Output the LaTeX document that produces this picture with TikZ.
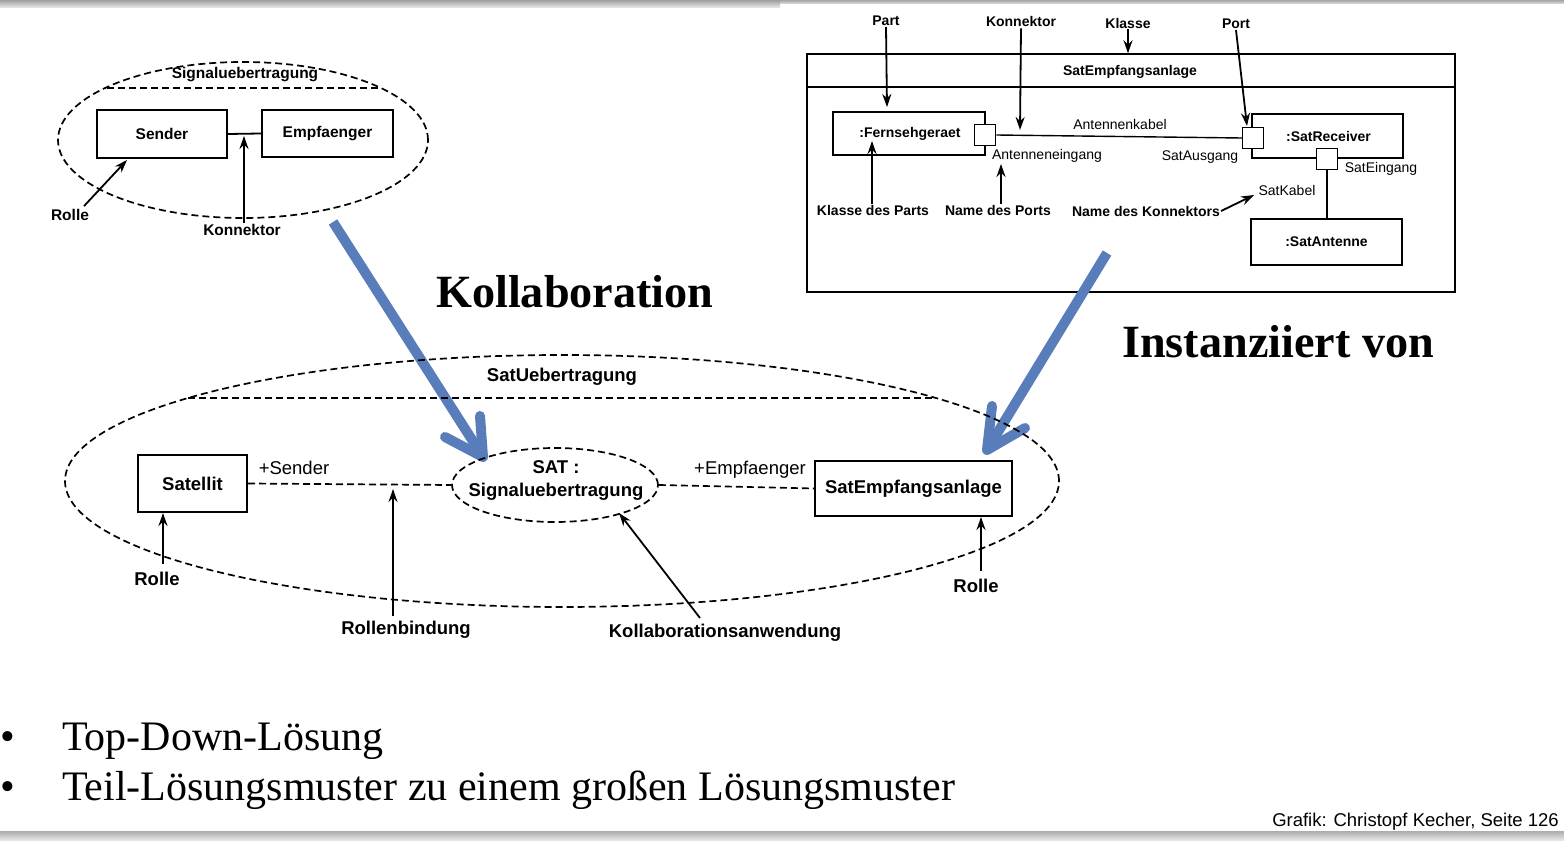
\documentclass[tikz,border=0pt]{standalone}
\usepackage{fontspec}
\setmainfont{Liberation Serif}
\newfontfamily\dsans{Liberation Sans}
\usetikzlibrary{shapes.geometric,arrows.meta,calc}
\definecolor{arrblue}{RGB}{88,125,186}
\newcommand\fTL{\dsans\bfseries\fontsize{15.5}{18}\selectfont}
\newcommand\fTR{\dsans\bfseries\fontsize{14}{16}\selectfont}
\newcommand\fTRn{\dsans\fontsize{14}{16}\selectfont}
\newcommand\fB{\dsans\bfseries\fontsize{18.5}{23}\selectfont}
\newcommand\fBn{\dsans\fontsize{18.5}{22}\selectfont}
\newcommand\fBig{\bfseries\fontsize{46.2}{50}\selectfont}
\newcommand\fBul{\fontsize{42}{46}\selectfont}
\newcommand\fFoot{\dsans\fontsize{18.5}{22}\selectfont}
\begin{document}
\begin{tikzpicture}[x=1pt,y=-1pt,
  tbox/.style={draw, line width=2pt, inner sep=0pt},
  rbox/.style={draw, line width=1.5pt, inner sep=0pt, font=\fTR},
  pbox/.style={draw, line width=1.5pt, inner sep=0pt, minimum size=21pt, fill=white},
  dsh/.style={dash pattern=on 7pt off 4pt, line width=1.7pt},
  arr/.style={-{Stealth[length=13pt,width=9pt]}, line width=1.8pt},
  blu/.style={line width=10pt, arrblue},
  lbl/.style={inner sep=1pt}]
\useasboundingbox (0,0) rectangle (1564,842);
% grey bars
\shade[top color=gray!75, bottom color=gray!15] (0,0) rectangle (780,8);
\shade[top color=gray!70, bottom color=gray!25] (780,0) rectangle (1564,4);
\shade[top color=gray!65, bottom color=gray!20] (0,831) rectangle (1564,840);

% ---------- top-left collaboration ----------
\node[ellipse, draw, dsh, minimum width=370pt, minimum height=156pt, inner sep=0pt] (sig) at (243,140) {};
\coordinate (sigc1) at (107,88);
\coordinate (sigc2) at (379,88);
\draw[dsh] (sigc1) -- (sigc2);
\node[lbl, font=\fTL] (sigt) at (245,75) {Signaluebertragung};
\node[tbox, minimum width=130pt, minimum height=48pt, font=\fTL] (sender) at (162,134) {Sender};
\node[tbox, minimum width=131pt, minimum height=47pt, font=\fTL] (empf) at (327.5,133.5) {Empfaenger};
\draw[line width=1.8pt] (sender.east) -- (empf.west);
\node[lbl, font=\fTL] (kon1) at (242,230) {Konnektor};
\coordinate (kon1tip) at (244,136);
\draw[arr] (kon1.north -| kon1tip) -- (kon1tip);
\node[lbl, font=\fTL] (rolle1) at (70,215) {Rolle};
\draw[arr] ($(rolle1.north)+(14,-2)$) -- ($(sender.south west)+(31,1)$);

% ---------- Kollaboration arrow ----------
\coordinate (a1s) at (333,222);
\coordinate (a1t) at (483,457);
\coordinate (a1b) at (445,437);
\coordinate (a1c) at (480,416);
\draw[blu] (a1s) -- (a1t);
\draw[blu, line cap=round, line join=round] (a1b) -- (a1t) -- (a1c);
\node[anchor=base west, inner sep=0pt, font=\fBig] (koll) at (436,308) {Kollaboration};

% ---------- top-right composite structure ----------
\node[draw, line width=1.5pt, minimum width=648pt, minimum height=238pt, inner sep=0pt] (frame) at (1131,173) {};
\draw[line width=1.5pt] ($(frame.north west)+(0,34)$) -- ($(frame.north east)+(0,34)$);
\node[lbl, font=\fTR] (hdr) at (1130,72) {SatEmpfangsanlage};

\node[lbl, font=\fTR] (part) at (886,21) {Part};
\node[lbl, font=\fTR] (konr) at (1021,22) {Konnektor};
\node[lbl, font=\fTR] (klasse) at (1128,23) {Klasse};
\node[lbl, font=\fTR] (port) at (1236,24) {Port};

\node[rbox, minimum width=152pt, minimum height=43pt] (fern) at (909,133.5) {\hspace*{2pt}:Fernsehgeraet};
\node[pbox] (p1) at (985,135) {};
\node[rbox, minimum width=151pt, minimum height=44pt] (recv) at (1327.5,136) {\hspace*{2pt}:SatReceiver};
\node[pbox] (p2) at (1253,138) {};
\node[pbox] (p3) at (1327,159) {};
\node[rbox, minimum width=151pt, minimum height=46pt] (ant) at (1326.5,242) {:SatAntenne};

\draw[line width=1.4pt] (p1.east) -- (p2.west);
\draw[line width=1.4pt] (p3.south) -- (p3.south |- ant.north);

\node[lbl, font=\fTRn] (akab) at (1120,124) {Antennenkabel};
\node[lbl, font=\fTRn] (aein) at (1047,156) {Antenneneingang};
\node[lbl, font=\fTRn] (saus) at (1200,157) {SatAusgang};
\node[lbl, font=\fTRn] (sein) at (1381,169) {SatEingang};
\node[lbl, font=\fTRn] (skab) at (1287,190) {SatKabel};

\coordinate (partTip) at (887,107);
\coordinate (konrTip) at (1020,130);
\coordinate (portTip) at (1247,126);
\draw[arr] (part.south) -- (partTip);
\draw[arr] (konr.south) -- (konrTip);
\draw[arr] (klasse.south) -- (klasse.south |- frame.north);
\draw[arr] (port.south) -- (portTip);

\node[lbl, font=\fTR] (kdp) at (873,210) {Klasse des Parts};
\node[lbl, font=\fTR] (ndp) at (998,210) {Name des Ports};
\node[lbl, font=\fTR] (ndk) at (1146,211) {Name des Konnektors};
\coordinate (kdpTip) at (872,141);
\coordinate (ndpTip) at (1001,164);
\coordinate (ndkTip) at (1254,195);
\draw[arr] (kdp.north -| kdpTip) -- (kdpTip);
\draw[arr] (ndp.north -| ndpTip) -- (ndpTip);
\draw[arr] (ndk.east) -- (ndkTip);

% ---------- Instanziiert arrow ----------
\coordinate (a2s) at (1107,253);
\coordinate (a2t) at (987,450);
\coordinate (a2b) at (992,406);
\coordinate (a2c) at (1025,428);
\draw[blu] (a2s) -- (a2t);
\draw[blu, line cap=round, line join=round] (a2b) -- (a2t) -- (a2c);
\node[anchor=base west, inner sep=0pt, font=\fBig] (inst) at (1122,358) {Instanziiert von};

% ---------- bottom collaboration ----------
\node[ellipse, draw, dsh, minimum width=994pt, minimum height=252pt, inner sep=0pt] (satue) at (562,481) {};
\coordinate (suc1) at (188,398);
\coordinate (suc2) at (936,398);
\draw[dsh] (suc1) -- (suc2);
\node[lbl, font=\fB] (suet) at (562,377) {SatUebertragung};

\node[ellipse, draw, dsh, minimum width=206pt, minimum height=74pt, inner sep=0pt] (sat) at (555,485) {};
\node[lbl, font=\fB, align=center] (satt) at (556,480) {SAT :\\Signaluebertragung};

\node[tbox, minimum width=109pt, minimum height=57pt, font=\fB] (satel) at (192.5,483.5) {Satellit};
\node[tbox, minimum width=197pt, minimum height=55pt, font=\fB] (satemp) at (913.5,488.5) {SatEmpfangsanlage};

\draw[dsh] (satel.east) -- (sat.west);
\draw[dsh] (sat.east) -- (satemp.west);
\node[lbl, font=\fBn] (psend) at (294,468) {+Sender};
\node[lbl, font=\fBn] (pempf) at (750,470) {+Empfaenger};

\node[lbl, font=\fB] (rolleA) at (157,579) {Rolle};
\node[lbl, font=\fB] (rbind) at (406,630) {Rollenbindung};
\node[lbl, font=\fB] (kanw) at (725,633) {Kollaborationsanwendung};
\node[lbl, font=\fB] (rolleB) at (976,586) {Rolle};

\coordinate (rAs) at (163,564);
\coordinate (rbTip) at (393,489);
\coordinate (rbs) at (393,616);
\coordinate (kaTip) at (619,513);
\coordinate (kas) at (700,618);
\coordinate (rBs) at (981,571);
\draw[arr] (rAs) -- (rAs |- satel.south);
\draw[arr] (rbs) -- (rbTip);
\draw[arr] (kas) -- (kaTip);
\draw[arr] (rBs) -- (rBs |- satemp.south);

% ---------- bullets ----------
\node[anchor=base, inner sep=0pt, font=\fBul] (bul1) at (8,750) {•};
\node[anchor=base west, inner sep=0pt, font=\fBul] (txt1) at (62,750) {Top-Down-Lösung};
\node[anchor=base, inner sep=0pt, font=\fBul] (bul2) at (8,800) {•};
\node[anchor=base west, inner sep=0pt, font=\fBul] (txt2) at (62,800) {Teil-Lösungsmuster zu einem großen Lösungsmuster};

\node[anchor=base east, inner sep=0pt, font=\fFoot] (foot) at (1559,826) {Grafik: Christopf Kecher, Seite 126};
\end{tikzpicture}
\end{document}
